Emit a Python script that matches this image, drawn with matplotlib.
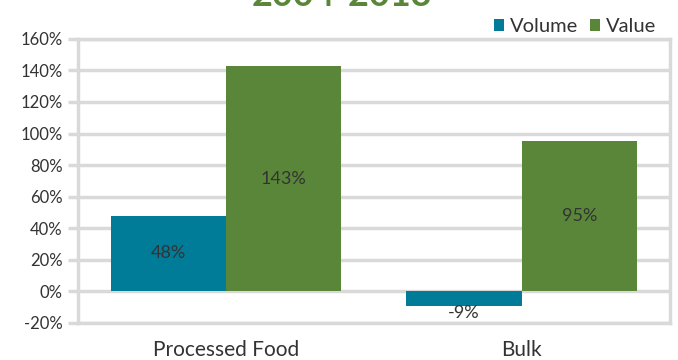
import matplotlib
matplotlib.use("Agg")
import matplotlib.pyplot as plt
import numpy as np

categories = ["Processed Food", "Bulk"]
volume = [48, -9]
value = [143, 95]
series_names = ["Volume", "Value"]
title = "2004-2013"
yticks = [-20, 0, 20, 40, 60, 80, 100, 120, 140, 160]

c_vol = "#007b98"
c_val = "#5a863a"
grid_c = "#d9d9d9"
txt_c = "#333333"

plt.rcParams['font.family'] = ['Lato', 'DejaVu Sans']

fig = plt.figure(figsize=(6.78, 3.6), dpi=100)
ax = fig.add_axes([0.115, 0.103, 0.873, 0.789])

x = np.arange(len(categories))
w = 0.39
b1 = ax.bar(x - w/2, volume, w, color=c_vol, zorder=3, label=series_names[0])
b2 = ax.bar(x + w/2, value, w, color=c_val, zorder=3, label=series_names[1])

for bars, vals in ((b1, volume), (b2, value)):
    for r, v in zip(bars, vals):
        cx = r.get_x() + r.get_width()/2
        if v >= 0:
            ax.text(cx, v/2, f"{v}%", ha="center", va="center", fontsize=13, color=txt_c, zorder=4)
        else:
            ax.text(cx, v - 5, f"{v}%", ha="center", va="center", fontsize=13, color=txt_c, zorder=4)

ax.set_xlim(-0.5, 1.5)
ax.set_ylim(-20, 160)
ax.set_yticks(yticks)
ax.set_yticklabels([f"{t}%" for t in yticks], fontsize=12, color=txt_c)
ax.set_xticks(x)
ax.set_xticklabels(categories, fontsize=15, color=txt_c)
ax.tick_params(axis="x", length=0, pad=12)
ax.tick_params(axis="y", length=7, width=2.5, color=grid_c, pad=4)
ax.grid(axis="y", color=grid_c, linewidth=2.5, zorder=0)
for s in ax.spines.values():
    s.set_color(grid_c)
    s.set_linewidth(2.5)

fig.text(0.505, 1 - 6/360, title, ha="center", va="baseline", fontsize=26, fontweight="bold", color=c_val)

leg = fig.legend(handles=[b1, b2], labels=series_names, loc="upper right",
                 bbox_to_anchor=(0.995, 1.0), ncol=2, frameon=False, fontsize=14.5,
                 handlelength=0.5, handleheight=0.5, handletextpad=0.3, columnspacing=0.6)
for t in leg.get_texts():
    t.set_color(txt_c)

fig.savefig("out.png", dpi=100)
